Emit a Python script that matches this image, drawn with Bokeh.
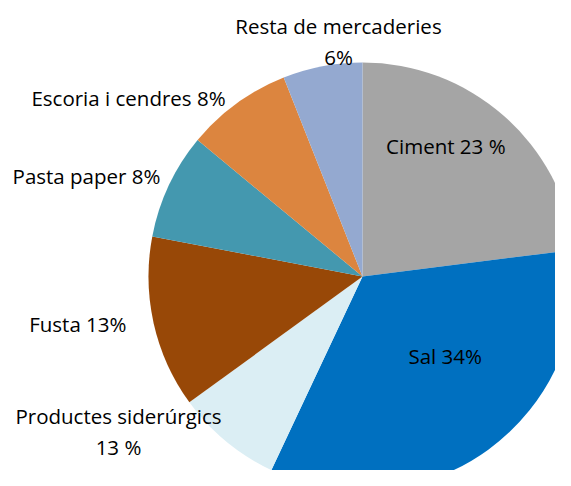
import math
from bokeh.plotting import figure
from bokeh.models import Range1d, ColumnDataSource
from bokeh.core.properties import value
from bokeh.embed import file_html
from bokeh.resources import INLINE

# data (clockwise from 12 o'clock)
categories = ["Ciment", "Sal", "Productes siderúrgics", "Fusta", "Pasta paper",
              "Escoria i cendres", "Resta de mercaderies"]
shares = [23, 34, 8, 13, 8, 8, 6]
labels = ["Ciment  23 %", "Sal   34%", "Productes siderúrgics\n13 %", "Fusta  13%",
          "Pasta paper 8%", "Escoria i cendres 8%", "Resta de mercaderies\n6%"]
colors = ["#A5A5A5", "#0070C0", "#DBEEF4", "#984807", "#4498AF", "#DC853F", "#94A9D0"]

# layout (y up)
W, H = 555, 470
cx, cy, r = 362, 194, 214
label_pos = [(448, 325), (450, 115), (118, 39), (80, 147), (86, 295), (128, 373), (338, 429)]

total = sum(shares)
starts, ends = [], []
a = math.pi / 2
for s in shares:
    starts.append(a)
    a -= 2 * math.pi * s / total
    ends.append(a)

src = ColumnDataSource(dict(start=starts, end=ends, color=colors, cat=categories))

p = figure(width=W, height=H, output_backend="svg", toolbar_location=None,
           x_range=Range1d(0, W), y_range=Range1d(0, H), min_border=0)
p.axis.visible = False
p.grid.visible = False
p.outline_line_color = None
p.background_fill_color = "white"

p.wedge(x=cx, y=cy, radius=r, start_angle="end", end_angle="start",
        color="color", line_color=None, source=src)

lsrc = ColumnDataSource(dict(x=[q[0] for q in label_pos], y=[q[1] for q in label_pos], text=labels))
p.text(x="x", y="y", text="text", source=lsrc, text_align="center", text_baseline="middle",
       text_font=value("Open Sans"), text_font_size="20.5px", text_color="#000000",
       text_line_height=1.1)

open("out.html", "w").write(file_html(p, INLINE))
